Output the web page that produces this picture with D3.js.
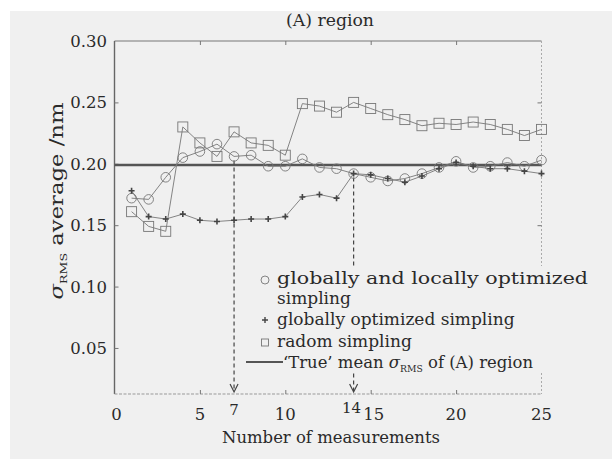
<!DOCTYPE html>
<html><head><meta charset="utf-8">
<script src="https://cdn.jsdelivr.net/npm/d3@7"></script>
<style>html,body{margin:0;padding:0;background:#fff;}svg{display:block;}</style>
</head><body>
<script>
const measurements = d3.range(1, 26);
const globalLocal = [0.172,0.171,0.189,0.205,0.210,0.216,0.206,0.207,0.198,0.198,0.204,0.197,0.196,0.192,0.189,0.186,0.188,0.192,0.197,0.202,0.197,0.198,0.201,0.198,0.203];
const globalOpt = [0.178,0.157,0.155,0.159,0.154,0.153,0.154,0.155,0.155,0.157,0.173,0.175,0.172,0.192,0.191,0.188,0.185,0.190,0.196,0.201,0.198,0.196,0.196,0.194,0.192];
const randomS = [0.161,0.149,0.145,0.230,0.217,0.206,0.226,0.217,0.215,0.207,0.249,0.247,0.242,0.250,0.245,0.240,0.236,0.231,0.233,0.232,0.234,0.232,0.228,0.223,0.228];
const trueMean = 0.199;
const xTicks = [0,5,10,15,20,25];
const yTicks = [0.05,0.10,0.15,0.20,0.25,0.30];
const markedN = [7,14];

const W=612,H=459;
const svg=d3.select("body").append("svg").attr("width",W).attr("height",H);
svg.append("rect").attr("x",10).attr("y",11).attr("width",W-10).attr("height",H-11).attr("fill","#f0f0f0");
const font="DejaVu Serif";
const tc="#2a2a2a";
const x=d3.scaleLinear().domain([0,25]).range([114.5,541.5]);
const y=d3.scaleLinear().domain([0.0125,0.30]).range([394,41]);

// frame
const g=svg.append("g");
g.append("line").attr("x1",x(0)).attr("x2",x(25)).attr("y1",y(0.30)).attr("y2",y(0.30)).attr("stroke","#777").attr("stroke-width",1.2);
g.append("line").attr("x1",x(0)).attr("x2",x(0)).attr("y1",y(0.30)).attr("y2",394).attr("stroke","#666").attr("stroke-width",1.4);
g.append("line").attr("x1",x(0)).attr("x2",x(25)).attr("y1",394).attr("y2",394).attr("stroke","#999").attr("stroke-width",1).attr("stroke-dasharray","3,1.5");
g.append("line").attr("x1",x(25)).attr("x2",x(25)).attr("y1",y(0.30)).attr("y2",394).attr("stroke","#aaa").attr("stroke-width",1).attr("stroke-dasharray","2,2");

// axes via d3
const xb=d3.axisBottom(x).tickValues(xTicks.filter(d=>d>0&&d<25)).tickSize(-4).tickFormat("");
const xt=d3.axisTop(x).tickValues(xTicks.filter(d=>d>0&&d<25)).tickSize(-4).tickFormat("");
const yl=d3.axisLeft(y).tickValues(yTicks.filter(d=>d<0.30)).tickSize(-4).tickFormat("");
const yr=d3.axisRight(y).tickValues(yTicks.filter(d=>d<0.30)).tickSize(-4).tickFormat("");
[[xb,`translate(0,394)`],[xt,`translate(0,${y(0.30)})`],[yl,`translate(${x(0)},0)`],[yr,`translate(${x(25)},0)`]].forEach(([a,t])=>{
  const ag=svg.append("g").attr("transform",t).call(a);
  ag.select(".domain").remove();
  ag.selectAll("line").attr("stroke","#777");
});

// tick labels
svg.append("g").selectAll("text").data(xTicks).join("text")
  .attr("x",d=>x(d)+(d===15?3:0)+(d===0?2:0)).attr("y",420).attr("text-anchor","middle")
  .attr("font-family",font).attr("font-size",16.5).attr("fill",tc).text(d=>d);
svg.append("g").selectAll("text").data(markedN).join("text")
  .attr("x",d=>x(d)-(d===14?2:0)).attr("y",d=>d===14?413:415).attr("text-anchor","middle")
  .attr("font-family",font).attr("font-size",15).attr("fill",tc).text(d=>d);
svg.append("g").selectAll("text").data(yTicks).join("text")
  .attr("x",107).attr("y",d=>y(d)+6).attr("text-anchor","end")
  .attr("font-family",font).attr("font-size",16.5).attr("fill",tc).text(d=>d.toFixed(2));

// titles
svg.append("text").attr("x",330).attr("y",26).attr("text-anchor","middle").attr("font-family",font).attr("font-size",17).attr("fill",tc).attr("textLength",88).attr("lengthAdjust","spacingAndGlyphs").text("(A) region");
svg.append("text").attr("x",331).attr("y",443).attr("text-anchor","middle").attr("font-family",font).attr("font-size",17).attr("fill",tc).attr("textLength",218).attr("lengthAdjust","spacingAndGlyphs").text("Number of measurements");
const yl2=svg.append("text").attr("transform","translate(63,201) rotate(-90)").attr("text-anchor","middle").attr("font-family",font).attr("font-size",18).attr("fill",tc).attr("textLength",197).attr("lengthAdjust","spacingAndGlyphs");
yl2.append("tspan").attr("font-style","italic").text("σ");
yl2.append("tspan").attr("font-size",10).attr("dy",4).text("RMS");
yl2.append("tspan").attr("dy",-4).text(" average /nm");

// true mean line
svg.append("line").attr("x1",x(0)).attr("x2",x(25)).attr("y1",y(trueMean)).attr("y2",y(trueMean)).attr("stroke","#555").attr("stroke-width",2.6);

// dashed arrows
const arrows=[{n:7,v:globalLocal[6]},{n:14,v:globalOpt[13]}];
arrows.forEach(a=>{
  svg.append("line").attr("x1",x(a.n)).attr("x2",x(a.n)).attr("y1",y(a.v)+4).attr("y2",391).attr("stroke","#444").attr("stroke-width",1.2).attr("stroke-dasharray","4,3");
  svg.append("path").attr("d",`M${x(a.n)-4},${384} L${x(a.n)},${392} L${x(a.n)+4},${384}`).attr("fill","none").attr("stroke","#444").attr("stroke-width",1.2);
});

// series
const line=d3.line().x((d,i)=>x(measurements[i])).y(d=>y(d));
function drawSeries(data,type){
  svg.append("path").datum(data).attr("d",line).attr("fill","none").attr("stroke","#777").attr("stroke-width",0.9);
  const gg=svg.append("g");
  data.forEach((v,i)=>{
    const cx=x(measurements[i]),cy=y(v);
    if(type==="circle") gg.append("circle").attr("cx",cx).attr("cy",cy).attr("r",4.8).attr("fill","none").attr("stroke","#777").attr("stroke-width",0.9);
    else if(type==="square") gg.append("rect").attr("x",cx-5).attr("y",cy-5).attr("width",10).attr("height",10).attr("fill","none").attr("stroke","#777").attr("stroke-width",0.9);
    else gg.append("path").attr("d",`M${cx-3},${cy}L${cx+3},${cy}M${cx},${cy-3}L${cx},${cy+3}`).attr("stroke","#444").attr("stroke-width",1.6);
  });
}
drawSeries(randomS,"square");
drawSeries(globalLocal,"circle");
drawSeries(globalOpt,"plus");

// legend
const lg=svg.append("g");
lg.append("rect").attr("x",255).attr("y",266).attr("width",340).attr("height",106).attr("fill","#f0f0f0");
lg.append("circle").attr("cx",265).attr("cy",280).attr("r",4).attr("fill","none").attr("stroke","#777").attr("stroke-width",0.9);
lg.append("path").attr("d","M262,320L268,320M265,317L265,323").attr("stroke","#444").attr("stroke-width",1.4);
lg.append("rect").attr("x",261.5).attr("y",339).attr("width",7).attr("height",7).attr("fill","none").attr("stroke","#777").attr("stroke-width",0.9);
lg.append("line").attr("x1",246).attr("x2",283).attr("y1",362).attr("y2",362).attr("stroke","#555").attr("stroke-width",2);
lg.append("text").attr("x",277).attr("y",284).attr("font-family",font).attr("font-size",17.5).attr("fill",tc)
  .attr("textLength",311).attr("lengthAdjust","spacingAndGlyphs").text("globally and locally optimized");
const legTexts=[["simpling",304],["globally optimized simpling",325],["radom simpling",347]];
legTexts.forEach(([t,yy])=>lg.append("text").attr("x",277).attr("y",yy).attr("font-family",font).attr("font-size",17).attr("fill",tc).text(t));
const lt=lg.append("text").attr("x",283).attr("y",368).attr("font-family",font).attr("font-size",16).attr("fill",tc).attr("textLength",250).attr("lengthAdjust","spacingAndGlyphs");
lt.append("tspan").text("‘True’ mean ");
lt.append("tspan").attr("font-style","italic").text("σ");
lt.append("tspan").attr("font-size",9).attr("dy",4).text("RMS");
lt.append("tspan").attr("dy",-4).text(" of (A) region");
</script>
</body></html>
